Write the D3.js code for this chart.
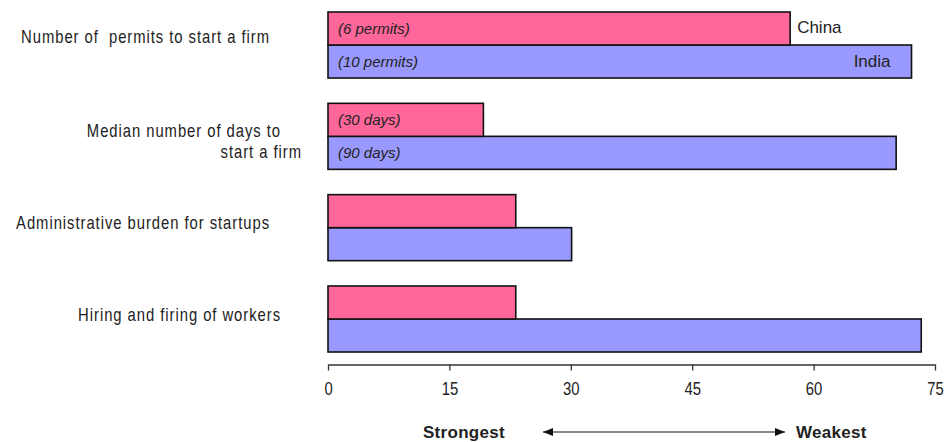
<!DOCTYPE html>
<html>
<head>
<meta charset="utf-8">
<script src="https://cdn.jsdelivr.net/npm/d3@7"></script>
<style>
  html, body { margin: 0; padding: 0; background: #fff; }
  svg { display: block; font-family: "Liberation Sans", Arial, sans-serif; }
</style>
</head>
<body>
<svg id="chart" width="947" height="442"></svg>
<script>
// Business-environment indicators, China vs India
const categories = [
  "Number of  permits to start a firm",
  "Median number of days to start a firm",
  "Administrative burden for startups",
  "Hiring and firing of workers"
];
const labelLines = [
  ["Number of  permits to start a firm"],
  ["Median number of days to", "start a firm"],
  ["Administrative burden for startups"],
  ["Hiring and firing of workers"]
];
const series = ["China", "India"];
const chinaValues = [57.1, 19.2, 23.2, 23.2];
const indiaValues = [72.1, 70.2, 30.1, 73.3];
const chinaNotes = ["(6 permits)", "(30 days)", "", ""];
const indiaNotes = ["(10 permits)", "(90 days)", "", ""];
const xTicks = [0, 15, 30, 45, 60, 75];
const scaleEnds = ["Strongest", "Weakest"];

const colors = { China: "#ff6699", India: "#9999ff" };
const NARROW = 0.8;   // horizontal squeeze for the condensed label face

const svg = d3.select("#chart");

const x = d3.scaleLinear().domain([0, 75]).range([328, 935]);
const y = d3.scaleBand().domain(categories).range([12, 352]).paddingInner(0.277).paddingOuter(0);
const ySub = d3.scaleBand().domain(series).range([0, y.bandwidth()]);

const rows = categories.map((c, i) => ({
  cat: c,
  lines: labelLines[i],
  bars: [
    { s: "China", v: chinaValues[i], note: chinaNotes[i] },
    { s: "India", v: indiaValues[i], note: indiaNotes[i] }
  ]
}));

// condensed text: glyphs squeezed horizontally around the anchor point
function narrowText(parent, px, py, str, anchor, size, spacing) {
  return parent.append("g")
    .attr("transform", `translate(${px},${py}) scale(${NARROW},1)`)
    .append("text")
    .attr("text-anchor", anchor)
    .attr("font-size", size)
    .attr("letter-spacing", spacing)
    .attr("fill", "#222")
    .style("white-space", "pre")
    .text(str);
}

const groups = svg.selectAll("g.group").data(rows).join("g")
  .attr("class", "group")
  .attr("transform", d => `translate(0,${y(d.cat)})`);

// bars (China drawn last so its outline sits on top of the shared edge)
groups.selectAll("rect").data(d => d.bars.slice().reverse()).join("rect")
  .attr("x", x(0))
  .attr("y", d => ySub(d.s))
  .attr("width", d => x(d.v) - x(0))
  .attr("height", ySub.bandwidth())
  .attr("fill", d => colors[d.s])
  .attr("stroke", "#111")
  .attr("stroke-width", 1.6);

// italic notes inside the bars
groups.selectAll("text.note").data(d => d.bars.filter(b => b.note)).join("text")
  .attr("class", "note")
  .attr("x", x(0) + 10)
  .attr("y", d => ySub(d.s) + ySub.bandwidth() / 2)
  .attr("dy", "0.35em")
  .attr("font-size", 15)
  .attr("font-style", "italic")
  .attr("fill", "#222")
  .text(d => d.note);

// series names on the first group
const first = rows[0];
svg.append("text")
  .attr("x", x(first.bars[0].v) + 7)
  .attr("y", y(first.cat) + ySub("China") + ySub.bandwidth() / 2 - 1)
  .attr("dy", "0.35em")
  .attr("font-size", 17)
  .attr("fill", "#222")
  .text("China");
svg.append("text")
  .attr("x", x(first.bars[1].v) - 21)
  .attr("y", y(first.cat) + ySub("India") + ySub.bandwidth() / 2)
  .attr("dy", "0.35em")
  .attr("text-anchor", "end")
  .attr("font-size", 17)
  .attr("fill", "#222")
  .text("India");

// category labels at the left
const labelRight = [270, 281, 270, 281];
const labelShift = [-2, 1, 1, 2];
groups.each(function (d, i) {
  const g = d3.select(this);
  const cy = y.bandwidth() / 2 + labelShift[i];
  d.lines.forEach((line, j) => {
    narrowText(g, j === 0 ? labelRight[i] : 302, cy + j * 21, line, "end", 18.5, 1.2);
  });
});

// value axis
const axis = svg.append("g")
  .attr("transform", "translate(0,364.5)")
  .call(d3.axisBottom(x).tickValues(xTicks).tickSize(6).tickSizeOuter(0).tickPadding(11));
axis.select(".domain").attr("stroke", "#333").attr("stroke-width", 1.3);
axis.selectAll(".tick line").attr("stroke", "#333").attr("stroke-width", 1.3);
axis.selectAll(".tick text")
  .attr("font-family", "Liberation Sans, Arial, sans-serif")
  .attr("font-size", 19)
  .attr("transform", "scale(0.78,1)")
  .attr("fill", "#222");

// strongest / weakest scale annotation
const defs = svg.append("defs");
defs.append("marker")
  .attr("id", "head")
  .attr("viewBox", "0 0 10 10")
  .attr("refX", 10).attr("refY", 5)
  .attr("markerWidth", 10).attr("markerHeight", 10)
  .attr("markerUnits", "userSpaceOnUse")
  .attr("orient", "auto-start-reverse")
  .append("path").attr("d", "M0,1 L10,5 L0,9 Z").attr("fill", "#111");

svg.append("line")
  .attr("x1", 543).attr("x2", 785)
  .attr("y1", 432).attr("y2", 432)
  .attr("stroke", "#111").attr("stroke-width", 1.2)
  .attr("marker-start", "url(#head)")
  .attr("marker-end", "url(#head)");

svg.append("text")
  .attr("x", 464).attr("y", 432).attr("dy", "0.35em")
  .attr("text-anchor", "middle").attr("font-size", 17).attr("font-weight", "bold")
  .attr("letter-spacing", 0.3)
  .attr("fill", "#222")
  .text(scaleEnds[0]);
svg.append("text")
  .attr("x", 796).attr("y", 432).attr("dy", "0.35em")
  .attr("text-anchor", "start").attr("font-size", 17).attr("font-weight", "bold")
  .attr("letter-spacing", 0.3)
  .attr("fill", "#222")
  .text(scaleEnds[1]);
</script>
</body>
</html>
